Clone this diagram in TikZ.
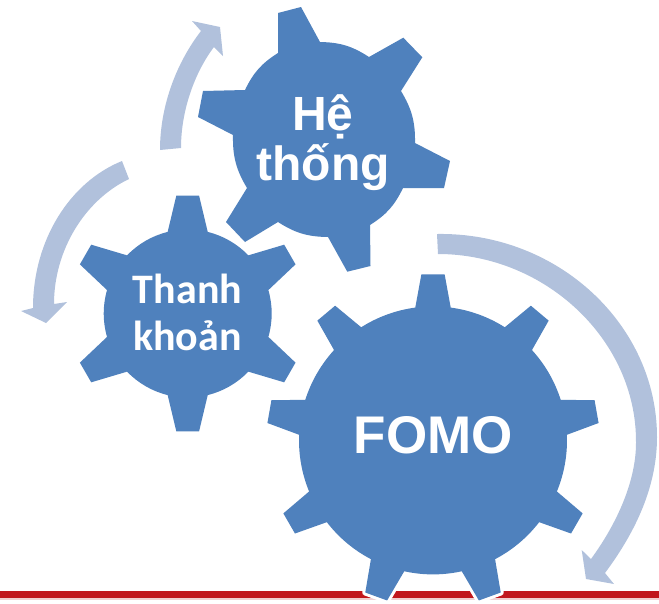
\documentclass[tikz,border=0pt]{standalone}
\usepackage{fontspec}
\setmainfont{Liberation Sans}
\newfontfamily\calibrifont{Carlito}
\definecolor{gearblue}{HTML}{4F81BD}
\definecolor{arrowblue}{HTML}{B1C1DC}
\definecolor{linered}{HTML}{C1171D}
\definecolor{linepink}{HTML}{F0D0D0}
\tikzset{
  gearbody/.style={fill=gearblue,preaction={draw=white,line width=6pt,line join=round}},
  turnarrow/.style={fill=arrowblue},
  gearlabel/.style={text=white,inner sep=0pt,align=center},
  rootarc/.style={bend left=16}
}
% #1 scope options, #2 body radius, #3 tip radius, #4 teeth, #5 first tooth, #6 root half angle, #7 tip half angle
\newcommand{\gearshape}[7][]{
  \begin{scope}[#1]
    \path[gearbody] ({#5-#6}:#2)
      \foreach \i [evaluate=\i as \a using #5+\i*360/#4] in {0,...,\numexpr#4-1\relax} {
        -- ({\a-#7}:#3) -- ({\a+#7}:#3) -- ({\a+#6}:#2)
        arc[start angle=\a+#6,end angle=\a+360/#4-#6,radius=#2]
      } -- cycle;
  \end{scope}
}
\begin{document}
\begin{tikzpicture}[x=1pt,y=-1pt]
  \useasboundingbox (0,0) rectangle (659,603);
  % red rule at the foot
  \fill[linepink] (0,597) rectangle (659,600);
  \fill[linered] (0,591) rectangle (659,598);
  % three gears, the middle one is a bit out of true
  \gearshape[shift={(187.7,313.5)},yscale=-1]{84}{118.5}{6}{90}{13.8}{5.5}
  \path[gearbody] (278,53) -- (278,13) -- (301,7) -- (320,42)
    to[rootarc] (369,57) -- (403.3,37.7) -- (422.3,57.3) -- (401,91)
    to[rootarc] (415,143) -- (450,161) -- (444,188) -- (403,188)
    to[rootarc] (370,225) -- (370.5,266) -- (347.3,271.7) -- (328,237)
    to[rootarc] (278,222) -- (245,242) -- (226,222) -- (247,188)
    to[rootarc] (233,135) -- (198,117) -- (203,91) -- (245,90)
    to[rootarc] (278,53) -- cycle;
  \gearshape[shift={(433,440.4)},yscale=-1]{134}{166.5}{9}{90}{7.6}{4}
  \node[gearlabel,font=\fontsize{48}{50}\selectfont\bfseries] (hethong) at (323,142.5) {Hệ\\thống};
  \node[gearlabel,font=\fontsize{42}{47}\selectfont\bfseries\calibrifont] (thanhkhoan) at (187.5,312.5) {Thanh\\khoản};
  \node[gearlabel,font=\fontsize{53}{53}\selectfont\bfseries] (fomo) at (433.3,435) {FOMO};
  % arrows turning round the gears
  \fill[turnarrow] (160,150) .. controls (160,105) and (177,62) .. (201,31)
    -- (192,21) -- (220,27) -- (223,56) -- (214,47)
    .. controls (195,72) and (181,110) .. (181,148) -- cycle;
  \fill[turnarrow] (122,161) .. controls (70,182) and (33,240) .. (33,308)
    -- (21,311) -- (46,323) -- (67,302) -- (54,304)
    .. controls (54,250) and (85,200) .. (129,179) -- cycle;
  \fill[turnarrow] (437,234) .. controls (558,232) and (657,325) .. (657,437)
    .. controls (657,485) and (637,530) .. (605,573)
    -- (614,584) -- (586,579) -- (581.7,550) -- (591,559)
    .. controls (618,522) and (636,480) .. (636,443)
    .. controls (637,340) and (545,254) .. (438,254) -- cycle;
\end{tikzpicture}
\end{document}
